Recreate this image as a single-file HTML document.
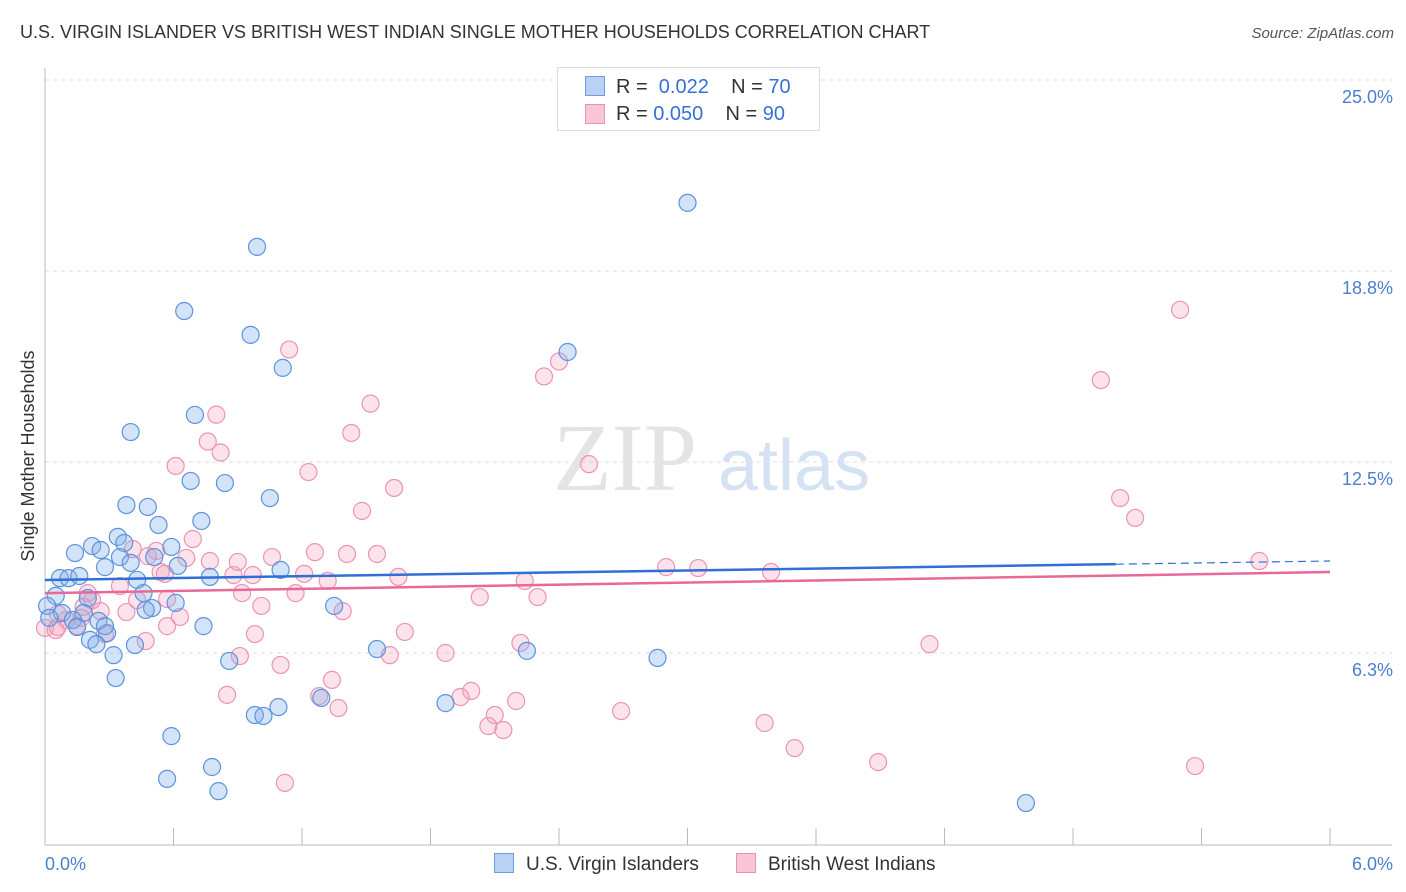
<!DOCTYPE html>
<html><head><meta charset="utf-8"><style>
body{margin:0;background:#fff;font-family:"Liberation Sans",sans-serif;}
#wrap{position:relative;width:1406px;height:892px;overflow:hidden;}
.t{position:absolute;white-space:nowrap;}
</style></head><body>
<div id="wrap">
<div class="t" style="left:20px;top:22px;font-size:18px;color:#333;">U.S. VIRGIN ISLANDER VS BRITISH WEST INDIAN SINGLE MOTHER HOUSEHOLDS CORRELATION CHART</div>
<div class="t" style="right:12px;top:25px;font-size:15px;color:#555;font-style:italic;">Source: ZipAtlas.com</div>
<svg id="svg" width="1406" height="892" style="position:absolute;left:0;top:0;"></svg>
</div>
<script>
const bx=[3.00,0.99,0.65,0.96,2.44,1.11,0.70,0.40,0.68,0.84,1.05,0.38,0.48,0.53,0.73,0.34,0.37,0.14,0.22,0.59,0.26,0.35,0.40,0.51,0.62,0.28,0.07,0.11,0.16,0.77,0.43,1.10,0.05,0.20,0.46,0.61,0.50,0.47,1.35,0.01,0.08,0.18,0.02,0.13,0.25,0.15,0.29,0.21,0.24,0.74,0.42,0.32,1.55,2.25,2.86,0.86,0.33,1.29,1.87,1.09,0.98,1.02,0.59,0.78,0.57,0.81,4.58,0.28];
const by=[20.98,19.54,17.44,16.66,16.10,15.58,14.04,13.48,11.88,11.81,11.32,11.09,11.03,10.44,10.57,10.05,9.85,9.52,9.75,9.72,9.62,9.39,9.20,9.39,9.10,9.06,8.70,8.70,8.77,8.74,8.64,8.97,8.12,8.05,8.21,7.89,7.72,7.66,7.79,7.79,7.56,7.56,7.40,7.33,7.30,7.10,6.90,6.68,6.54,7.13,6.51,6.18,6.38,6.32,6.09,5.99,5.43,4.78,4.61,4.48,4.22,4.19,3.53,2.52,2.13,1.73,1.34,7.13];
const px=[5.30,1.14,2.40,2.33,4.93,1.52,0.80,0.76,0.82,1.43,2.54,0.61,1.23,1.63,5.02,5.09,1.48,0.69,0.52,0.41,0.66,1.06,1.26,1.41,1.55,0.77,0.54,0.56,0.88,0.97,1.21,1.32,1.65,2.24,2.90,3.05,3.39,5.67,0.35,0.20,0.43,0.57,0.92,1.17,2.03,2.30,1.01,0.18,0.26,0.38,0.17,1.39,0.06,0.10,0.00,0.06,0.15,0.57,0.63,0.28,0.98,0.47,0.91,1.68,1.61,1.87,2.22,4.13,1.10,1.34,1.28,1.99,1.94,2.20,0.85,1.37,2.69,2.10,2.07,2.14,3.36,3.50,3.89,5.37,1.12,0.90,0.22,0.48,0.05];
const py=[17.48,16.18,15.79,15.30,15.18,14.41,14.05,13.17,12.81,13.45,12.43,12.37,12.17,11.65,11.32,10.67,10.90,9.98,9.59,9.65,9.36,9.39,9.55,9.49,9.49,9.26,8.90,8.84,8.80,8.80,8.84,8.61,8.74,8.61,9.06,9.03,8.90,9.26,8.44,8.21,7.98,8.02,8.21,8.21,8.08,8.08,7.79,7.76,7.62,7.59,7.40,7.62,7.53,7.33,7.07,7.10,7.13,7.13,7.43,6.87,6.87,6.64,6.15,6.94,6.18,6.25,6.58,6.54,5.86,5.37,4.84,5.01,4.81,4.68,4.88,4.45,4.35,4.22,3.86,3.73,3.96,3.14,2.68,2.55,2.00,9.23,7.98,9.42,7.00];
const yTicks=[25.0,18.8,12.5,6.3];
const yTickVals=[25,18.75,12.5,6.25];
const blueTrend=[8.64,9.26];
const pinkTrend=[8.21,8.90];
const blueSolidEnd=5.0;

const X=v=>45+v*214.17, Y=v=>844-v*30.56;
const svg=document.getElementById('svg');
const NS='http://www.w3.org/2000/svg';
function mk(t,a,parent){const e=document.createElementNS(NS,t);for(const k in a)e.setAttribute(k,a[k]);(parent||svg).appendChild(e);return e;}
yTickVals.forEach((v,i)=>{
  const g=mk('line',{x1:45,x2:1392,y1:Y(v),y2:Y(v),stroke:'#ddd','stroke-dasharray':'4,4'});
  
  
  const t=mk('text',{x:1393,y:Y(v)+23,'text-anchor':'end','font-size':18,fill:'#4a7fd0','font-family':'Liberation Sans'});
  t.textContent=yTicks[i].toFixed(1)+'%';
  
  
});
const ax=mk('line',{x1:45,x2:1392,y1:845,y2:845,stroke:'#bbb'});


const ay=mk('line',{x1:45,x2:45,y1:68,y2:845,stroke:'#bbb'});


for(let i=0;i<=10;i++){const tk=mk('line',{x1:X(i*0.6),x2:X(i*0.6),y1:828,y2:845,stroke:'#bbb'});

}
[['0.0%',45,'start'],['6.0%',1393,'end']].forEach(a=>{const t=mk('text',{x:a[1],y:870,'text-anchor':a[2],'font-size':18,fill:'#4a7fd0','font-family':'Liberation Sans'});t.textContent=a[0];

});
const wm=mk('text',{x:553,y:490,'font-size':96,fill:'#e4e4e4','font-family':'Liberation Serif'});wm.textContent='ZIP';


const wm2=mk('text',{x:718,y:490,'font-size':72,fill:'#d5e2f3','font-family':'Liberation Sans'});wm2.textContent='atlas';


const yt=mk('text',{x:34,y:456,transform:'rotate(-90 34 456)','text-anchor':'middle','font-size':18,fill:'#333','font-family':'Liberation Sans'});yt.textContent='Single Mother Households';


px.forEach((v,i)=>{const c=mk('circle',{cx:X(v),cy:Y(py[i]),r:8.5,fill:'rgba(244,160,190,0.3)',stroke:'#eb94b2','stroke-width':1.2});

});
bx.forEach((v,i)=>{const c=mk('circle',{cx:X(v),cy:Y(by[i]),r:8.5,fill:'rgba(130,175,235,0.35)',stroke:'#5d93dc','stroke-width':1.2});

});
const bs=blueTrend[0]+(blueTrend[1]-blueTrend[0])*blueSolidEnd/6;
const tb=mk('line',{x1:X(0),y1:Y(blueTrend[0]),x2:X(blueSolidEnd),y2:Y(bs),stroke:'#2f6fd6','stroke-width':2.5});


const tbd=mk('line',{x1:X(blueSolidEnd),y1:Y(bs),x2:X(6),y2:Y(blueTrend[1]),stroke:'#2f6fd6','stroke-width':1.2,'stroke-dasharray':'8,5'});


const tp=mk('line',{x1:X(0),y1:Y(pinkTrend[0]),x2:X(6),y2:Y(pinkTrend[1]),stroke:'#e8689a','stroke-width':2.5});


</script>
<div class="t" style="left:557px;top:67px;width:261px;height:62px;border:1px solid #ddd;background:#fff;font-size:20px;color:#333;">
  <div style="position:absolute;left:27px;top:8px;width:18px;height:18px;background:#b9d2f3;border:1px solid #6e9edf;"></div>
  <div style="position:absolute;left:58px;top:8px;">R = <span style="color:#3572d6">&nbsp;0.022</span>&nbsp;&nbsp;&nbsp; N = <span style="color:#3572d6">70</span></div>
  <div style="position:absolute;left:27px;top:36px;width:18px;height:18px;background:#f8c6d6;border:1px solid #eb94b2;"></div>
  <div style="position:absolute;left:58px;top:35px;">R = <span style="color:#3572d6">0.050</span>&nbsp;&nbsp;&nbsp; N = <span style="color:#3572d6">90</span></div>
</div>
<div class="t" style="left:494px;top:853px;font-size:19px;color:#333;"><span style="display:inline-block;width:18px;height:18px;background:#b9d2f3;border:1px solid #6e9edf;vertical-align:-3px;margin-right:12px;"></span>U.S. Virgin Islanders</div>
<div class="t" style="left:736px;top:853px;font-size:19px;color:#333;"><span style="display:inline-block;width:18px;height:18px;background:#f8c6d6;border:1px solid #eb94b2;vertical-align:-3px;margin-right:12px;"></span>British West Indians</div>
</body></html>
